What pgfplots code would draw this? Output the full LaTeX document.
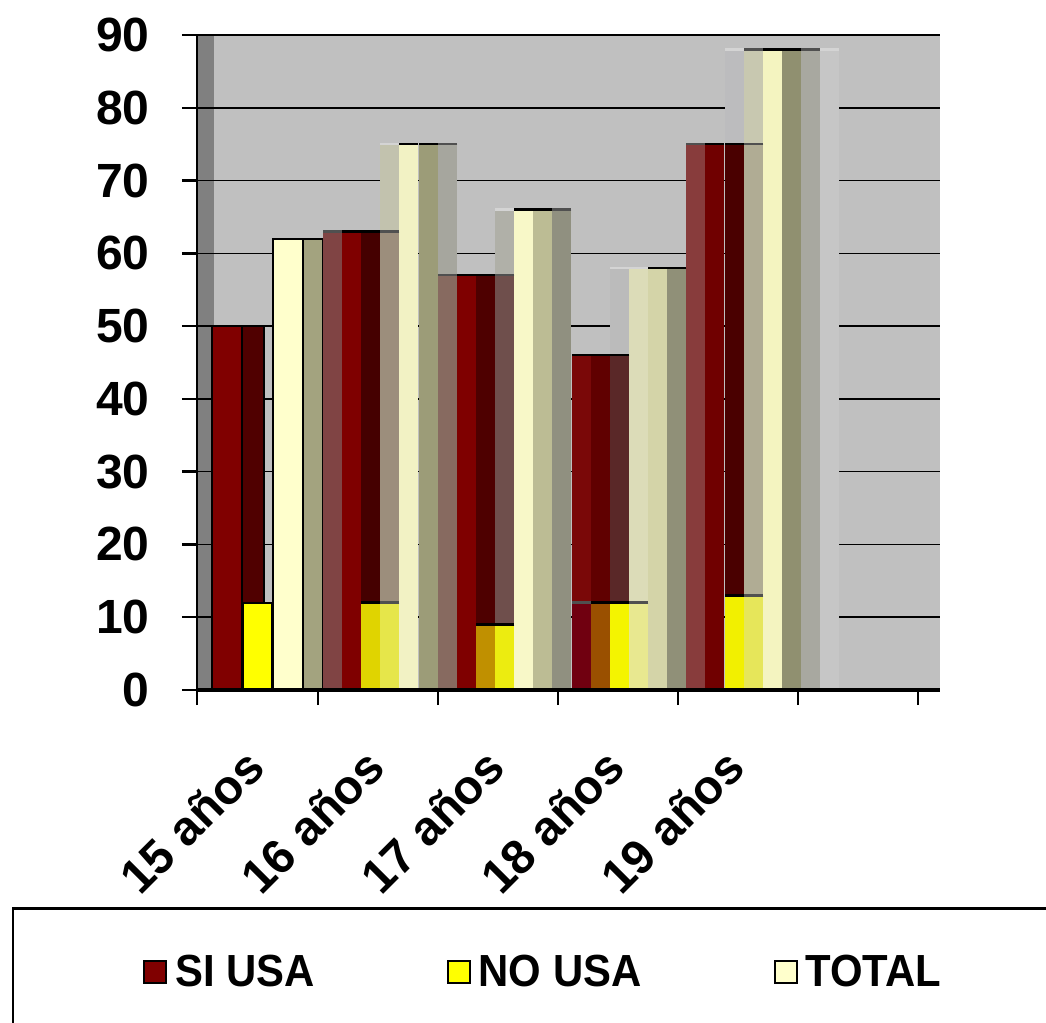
\documentclass[border=0pt]{standalone}
\usepackage{fontspec}
\setmainfont{Liberation Sans}
\newfontfamily\legendfont{Liberation Sans}[FakeStretch=0.93]
\usepackage{pgfplots}
\pgfplotsset{compat=1.18}

% plot area
\definecolor{bgGray}{HTML}{C0C0C0}
\definecolor{wallGray}{HTML}{808080}
\definecolor{capDark}{HTML}{505050}
\definecolor{capLight}{HTML}{D4D4D4}
% legend swatches
\definecolor{siRed}{HTML}{800000}
\definecolor{noYellow}{HTML}{FFFF00}
\definecolor{totCream}{HTML}{FFFFCC}
% 15 anos
\definecolor{a1}{HTML}{800000}
\definecolor{a2}{HTML}{500000}
\definecolor{a3}{HTML}{FFFF00}
\definecolor{a4}{HTML}{FFFFCC}
\definecolor{a5}{HTML}{A3A37F}
% 16 anos
\definecolor{b1}{HTML}{804444}
\definecolor{b2}{HTML}{7F0000}
\definecolor{b3}{HTML}{450000}
\definecolor{b3n}{HTML}{E0D400}
\definecolor{b4t}{HTML}{C2C2AE}
\definecolor{b4}{HTML}{9C8E7C}
\definecolor{b4n}{HTML}{E6E64A}
\definecolor{b5}{HTML}{F2F2C4}
\definecolor{b6}{HTML}{9C9C78}
\definecolor{b7}{HTML}{A6A69E}
% 17 anos
\definecolor{c1}{HTML}{876A60}
\definecolor{c2}{HTML}{7F0000}
\definecolor{c3}{HTML}{4E0000}
\definecolor{c3n}{HTML}{C09000}
\definecolor{c4t}{HTML}{B0B0A8}
\definecolor{c4}{HTML}{6F4F4C}
\definecolor{c4n}{HTML}{ECEC10}
\definecolor{c5}{HTML}{F8F8C8}
\definecolor{c6}{HTML}{BCBC94}
\definecolor{c7}{HTML}{909080}
% 18 anos
\definecolor{d1}{HTML}{7A0808}
\definecolor{d1n}{HTML}{700010}
\definecolor{d2}{HTML}{600000}
\definecolor{d2n}{HTML}{9A5000}
\definecolor{d3t}{HTML}{BBBBBB}
\definecolor{d3}{HTML}{5A2828}
\definecolor{d3n}{HTML}{F4F400}
\definecolor{d4}{HTML}{DCDCB8}
\definecolor{d4n}{HTML}{E8E890}
\definecolor{d5}{HTML}{D4D4A8}
\definecolor{d6}{HTML}{909078}
% 19 anos
\definecolor{e1}{HTML}{883C3C}
\definecolor{e2}{HTML}{700000}
\definecolor{e3t}{HTML}{BCBCBE}
\definecolor{e3}{HTML}{4A0000}
\definecolor{e3n}{HTML}{F2F000}
\definecolor{e4t}{HTML}{C8C8B0}
\definecolor{e4}{HTML}{B0AC94}
\definecolor{e4n}{HTML}{E6E65A}
\definecolor{e5}{HTML}{F4F4C0}
\definecolor{e6}{HTML}{909070}
\definecolor{e7}{HTML}{A8A8A0}
\definecolor{e8}{HTML}{C6C6C6}

% one vertical face of a 3-D column (19.6 units wide) with a thin top edge:
% [edge colour]{centre}{value}{fill colour}
\newcommand{\face}[4][black]{%
  \addplot[ybar, bar width=19.6, bar shift=0pt, fill=#4, draw=none, forget plot] coordinates {(#2,#3)};
  \addplot[only marks, mark=-, mark size=9.8bp, color=#1, line width=2.5bp, forget plot] coordinates {(#2,#3)};
}
% outlined face of the front row: {centre}{width}{value}{fill colour}
\newcommand{\oface}[4]{\addplot[ybar, bar width=#2, bar shift=0pt, fill=#4, draw=black, line width=2bp, forget plot] coordinates {(#1,#3)};}

\begin{document}
\begin{tikzpicture}
\path[use as bounding box] (0,0) rectangle (1046bp,-1023bp);
\begin{axis}[
  at={(197bp,-690bp)}, anchor=south west,
  scale only axis, width=743bp, height=655bp,
  xmin=0, xmax=743, ymin=0, ymax=90,
  axis lines=left,
  axis line style={-},
  x axis line style={line width=4bp},
  y axis line style={line width=2bp},
  % grey back plane with the darker side wall at its left
  axis background/.style={fill=bgGray,
    path picture={\fill[wallGray] (path picture bounding box.south west) rectangle ([xshift=17bp]path picture bounding box.north west);}},
  ytick={0,10,...,90},
  ymajorgrids,
  grid style={black, line width=1.6bp},
  xtick={0,121,241,361,481,601,721},
  xticklabels={},
  extra x ticks={60.5,181,301,421,541},
  extra x tick labels={15 años,16 años,17 años,18 años,19 años},
  extra x tick style={major tick length=0pt, grid=none},
  tick align=outside,
  major tick length=15bp,
  tick style={black, line width=2.5bp},
  /pgf/number format/assume math mode=true,
  yticklabel style={font=\fontsize{48bp}{48bp}\selectfont\bfseries, xshift=-29bp},
  xticklabel style={font=\fontsize{48bp}{48bp}\selectfont\bfseries, yshift=-66bp, rotate=45, anchor=east},
  legend columns=3,
  legend style={
    at={(axis description cs:-0.249,-0.3313)}, anchor=north west,
    draw=black, line width=2.5bp, fill=white,
    inner xsep=130bp, inner ysep=47bp,
    font=\legendfont\bfseries\fontsize{45bp}{45bp}\selectfont,
    nodes={inner xsep=8bp, inner ysep=0bp},
    /tikz/every even column/.append style={column sep=124bp},
  },
]
% 15 años: SI 50, NO 12, TOTAL 62
\oface{30}{30}{50}{a1}
\oface{56}{22}{50}{a2}
\oface{60.5}{29}{12}{a3}
\oface{91}{30}{62}{a4}
\oface{116}{20}{62}{a5}

% 16 años: SI 63, NO 12, TOTAL 75
\face[capDark]{135.6}{63}{b1}
\face{154.6}{63}{b2}
\face{173.6}{63}{b3}
\face{173.6}{12}{b3n}
\face[capLight]{192.6}{75}{b4t}
\face[capDark]{192.6}{63}{b4}
\face[capDark]{192.6}{12}{b4n}
\face{211.6}{75}{b5}
\face{231.6}{75}{b6}
\face[capDark]{250.6}{75}{b7}

% 17 años: SI 57, NO 9, TOTAL 66
\face[capDark]{250.6}{57}{c1}
\face{269.6}{57}{c2}
\face{288.6}{57}{c3}
\face{288.6}{9}{c3n}
\face[capLight]{307.6}{66}{c4t}
\face[capDark]{307.6}{57}{c4}
\face{307.6}{9}{c4n}
\face{326.6}{66}{c5}
\face{345.6}{66}{c6}
\face[capDark]{364.6}{66}{c7}

% 18 años: SI 46, NO 12, TOTAL 58
\face{384.6}{46}{d1}
\face[capDark]{384.6}{12}{d1n}
\face{403.6}{46}{d2}
\face{403.6}{12}{d2n}
\face[capLight]{422.6}{58}{d3t}
\face{422.6}{46}{d3}
\face{422.6}{12}{d3n}
\face[capLight]{441.6}{58}{d4}
\face[capDark]{441.6}{12}{d4n}
\face{460.6}{58}{d5}
\face{479.6}{58}{d6}

% 19 años: SI 75, NO 13, TOTAL 88
\face[capDark]{498.6}{75}{e1}
\face{517.6}{75}{e2}
\face[capLight]{537.6}{88}{e3t}
\face{537.6}{75}{e3}
\face{537.6}{13}{e3n}
\face[capDark]{556.6}{88}{e4t}
\face[capDark]{556.6}{75}{e4}
\face[capDark]{556.6}{13}{e4n}
\face{575.6}{88}{e5}
\face{594.6}{88}{e6}
\face[capDark]{613.6}{88}{e7}
\face[capLight]{632.6}{88}{e8}

% axis lines redrawn over the columns
\addplot[black, line width=4bp, forget plot] coordinates {(0,0) (743,0)};
\addplot[black, line width=2bp, forget plot] coordinates {(0,0) (0,90)};

\addlegendimage{legend image code/.code={\draw[fill=siRed, draw=black, line width=2bp] (0bp,-11bp) rectangle (22bp,11bp);}}
\addlegendentry{SI USA}
\addlegendimage{legend image code/.code={\draw[fill=noYellow, draw=black, line width=2bp] (0bp,-11bp) rectangle (22bp,11bp);}}
\addlegendentry{NO USA}
\addlegendimage{legend image code/.code={\draw[fill=totCream, draw=black, line width=2bp] (0bp,-11bp) rectangle (22bp,11bp);}}
\addlegendentry{TOTAL}
\end{axis}
\end{tikzpicture}
\end{document}
